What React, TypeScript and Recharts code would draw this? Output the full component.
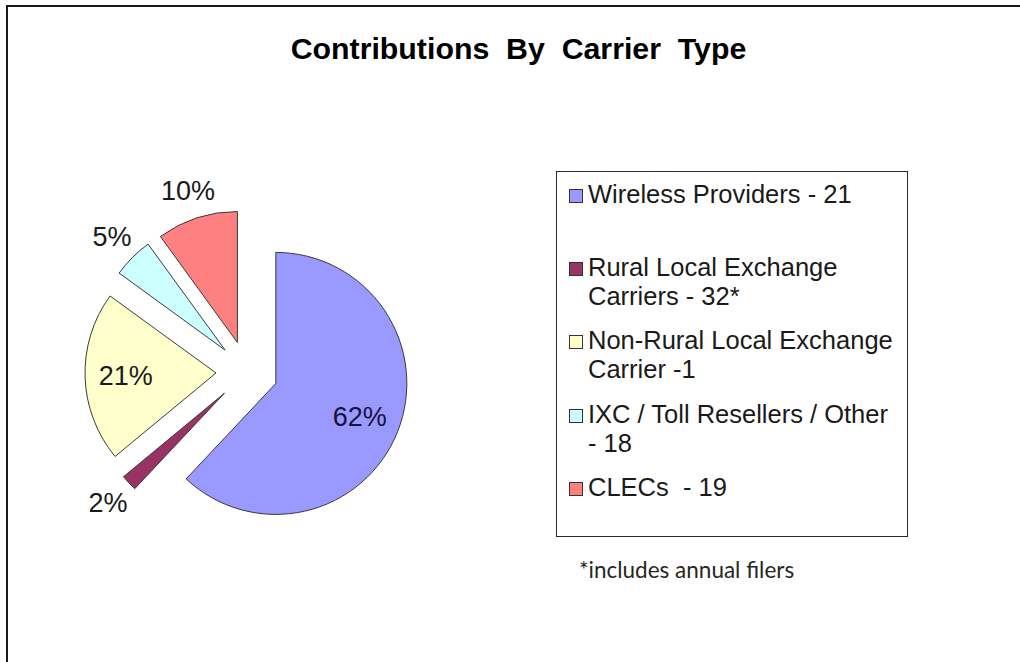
import React from 'react';
import { PieChart, Pie, Sector } from 'recharts';

const categories = [
  'Wireless Providers',
  'Rural Local Exchange Carriers',
  'Non-Rural Local Exchange Carrier',
  'IXC / Toll Resellers / Other',
  'CLECs',
];
const shares = [62, 2, 21, 5, 10];
const legendLabels = [
  'Wireless Providers - 21',
  'Rural Local Exchange Carriers - 32*',
  'Non-Rural Local Exchange Carrier -1',
  'IXC / Toll Resellers / Other - 18',
  'CLECs  - 19',
];
const colors = ['#9999FF', '#993366', '#FFFFCC', '#CCFFFF', '#FF8080'];
const title = 'Contributions  By  Carrier  Type';
const footnote = '*includes annual filers';

const data = categories.map((name, i) => ({ name, value: shares[i] }));

const RAD = Math.PI / 180;
const EXPLODE = 31;
const FONT = '"Liberation Sans", Arial, sans-serif';

function renderSlice(props: any) {
  const { cx, cy, innerRadius, outerRadius, startAngle, endAngle, midAngle, index, value } = props;
  const ux = Math.cos(-midAngle * RAD);
  const uy = Math.sin(-midAngle * RAD);
  const ox = cx + EXPLODE * ux;
  const oy = cy + EXPLODE * uy;
  const inside = value >= 15;
  const lr = inside ? outerRadius * 0.69 : outerRadius * 1.22;
  const lx = ox + lr * ux;
  const ly = oy + lr * uy;
  return (
    <g>
      <Sector
        cx={ox}
        cy={oy}
        innerRadius={innerRadius}
        outerRadius={outerRadius}
        startAngle={startAngle}
        endAngle={endAngle}
        fill={colors[index]}
        stroke="#3a3a3a"
        strokeWidth={1}
      />
      <text
        x={lx}
        y={ly}
        textAnchor="middle"
        dominantBaseline="central"
        fontFamily={FONT}
        fontSize={27}
        fill={index === 0 ? '#15153a' : '#1a1a1a'}
      >
        {`${value}%`}
      </text>
    </g>
  );
}

export default function App() {
  return (
    <div style={{ position: 'absolute', left: 0, top: 0, width: 1020, height: 662, overflow: 'hidden', background: '#fff' }}>
      <div
        style={{
          position: 'absolute',
          left: 6,
          top: 5,
          width: 1012,
          height: 655,
          borderTop: '2px solid #1a1a1a',
          borderLeft: '2px solid #1a1a1a',
        }}
      />
      <div
        style={{
          position: 'absolute',
          left: 0,
          top: 33.5,
          width: 1037,
          textAlign: 'center',
          fontFamily: FONT,
          fontWeight: 'bold',
          fontSize: 30.3,
          lineHeight: '30px',
          color: '#000',
          whiteSpace: 'pre',
        }}
      >
        {title}
      </div>
      <div style={{ position: 'absolute', left: 0, top: 0 }}>
        <PieChart width={1020} height={662} margin={{ top: 0, right: 0, bottom: 0, left: 0 }}>
          <Pie
            data={data}
            dataKey="value"
            nameKey="name"
            cx={247}
            cy={372}
            innerRadius={0}
            outerRadius={131}
            startAngle={90}
            endAngle={-270}
            fill="transparent"
            stroke="none"
            label={renderSlice}
            labelLine={false}
            isAnimationActive={false}
          />
        </PieChart>
      </div>
      <div
        style={{
          position: 'absolute',
          left: 556,
          top: 171,
          width: 350,
          height: 364,
          border: '1.5px solid #2a2a2a',
        }}
      />
      <div style={{ position: 'absolute', left: 569, top: 180, width: 340 }}>
        {legendLabels.map((lab, i) => (
          <div key={i} style={{ position: 'relative', height: 73.2 }}>
            <div
              style={{
                position: 'absolute',
                left: 0,
                top: 9,
                width: 12,
                height: 12,
                background: colors[i],
                border: '1px solid #333',
              }}
            />
            <div
              style={{
                position: 'absolute',
                left: 19,
                top: 0,
                width: 306,
                fontFamily: FONT,
                fontSize: 25.5,
                lineHeight: '29px',
                color: '#1a1a1a',
                whiteSpace: 'pre-wrap',
              }}
            >
              {lab}
            </div>
          </div>
        ))}
      </div>
      <div
        style={{
          position: 'absolute',
          left: 579,
          top: 558,
          fontFamily: 'Lato, "Open Sans", sans-serif',
          fontSize: 22.5,
          lineHeight: '24px',
          color: '#262626',
          whiteSpace: 'pre',
        }}
      >
        {footnote}
      </div>
    </div>
  );
}
